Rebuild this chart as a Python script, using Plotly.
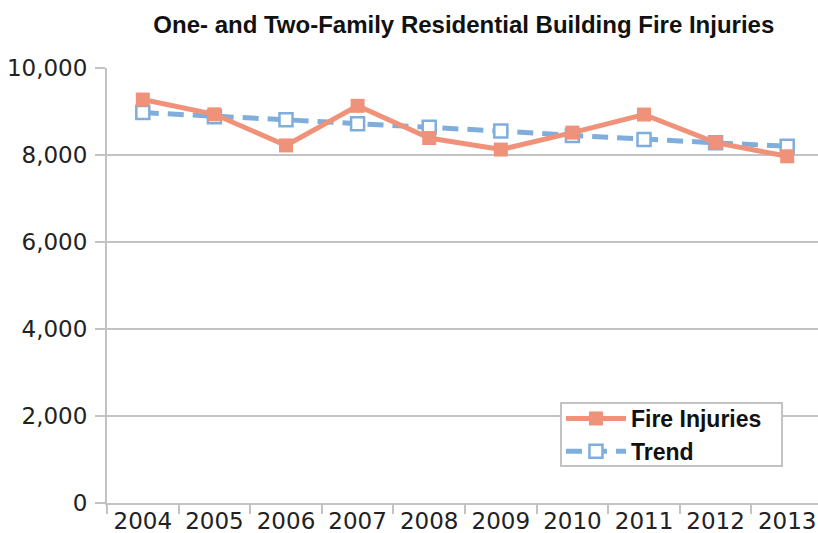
import plotly.graph_objects as go

years = ["2004", "2005", "2006", "2007", "2008", "2009", "2010", "2011", "2012", "2013"]
fire_injuries = [9275, 8935, 8220, 9130, 8390, 8125, 8515, 8930, 8285, 7970]
trend = [8975, 8880, 8810, 8720, 8640, 8550, 8450, 8355, 8280, 8200]
y_ticks = [0, 2000, 4000, 6000, 8000, 10000]

fire_color = "#F0927A"
trend_color = "#7FAEDD"
grid_color = "#C3C3C3"

fig = go.Figure()
fig.add_trace(go.Scatter(
    x=years, y=trend, name="Trend", mode="lines+markers",
    line=dict(color=trend_color, width=5, dash="16px,9px"),
    marker=dict(symbol="square", size=13, color="white",
                line=dict(color=trend_color, width=2.5)),
    legendrank=2,
))
fig.add_trace(go.Scatter(
    x=years, y=fire_injuries, name="Fire Injuries", mode="lines+markers",
    line=dict(color=fire_color, width=5),
    marker=dict(symbol="square", size=14, color=fire_color),
    legendrank=1,
))

# legend frame
fig.add_shape(
    type="rect", xref="paper", yref="paper",
    x0=0.6385, x1=0.9494, y0=0.0851, y1=0.2299,
    fillcolor="white", line=dict(color=grid_color, width=2), layer="above",
)

fig.update_layout(
    width=818, height=533,
    margin=dict(l=107, r=0, t=68, b=30, autoexpand=False),
    paper_bgcolor="white", plot_bgcolor="white",
    font=dict(family="DejaVu Sans, Liberation Sans, sans-serif", color="#222222"),
    title=dict(
        text="<b>One- and Two-Family Residential Building Fire Injuries</b>",
        x=0.567, xanchor="center", y=0.953, yanchor="middle",
        font=dict(family="Liberation Sans Narrow, sans-serif",
                  size=24, color="#111111"),
    ),
    showlegend=True,
    legend=dict(
        x=0.6385, y=0.2437, xanchor="left", yanchor="top",
        bgcolor="rgba(0,0,0,0)", borderwidth=0,
        font=dict(family="Liberation Sans, sans-serif", size=23, color="#111111",
                  weight="bold"),
        tracegroupgap=0, itemwidth=60,
    ),
)

fig.update_xaxes(
    type="category", range=[-0.5, 9.43], automargin=False,
    showline=True, linecolor=grid_color, linewidth=2,
    ticks="outside", tickson="boundaries", ticklen=9, tickwidth=2, tickcolor=grid_color,
    ticklabelstandoff=-4,
    showgrid=False,
    tickfont=dict(family="DejaVu Sans, sans-serif", size=23, color="#222222"),
)
fig.update_yaxes(
    range=[0, 10000], tickvals=y_ticks, ticktext=[f"{v:,}" for v in y_ticks],
    automargin=False,
    showline=True, linecolor=grid_color, linewidth=2,
    ticks="outside", ticklen=10, tickwidth=2, tickcolor=grid_color,
    ticklabelstandoff=3,
    showgrid=True, gridcolor=grid_color, gridwidth=2, zeroline=False,
    tickfont=dict(family="DejaVu Sans, sans-serif", size=23, color="#222222"),
)

fig.write_html(
    "out.html",
    config={"displayModeBar": False},
    post_script="document.body.style.margin='0';document.body.style.overflow='hidden';",
)
